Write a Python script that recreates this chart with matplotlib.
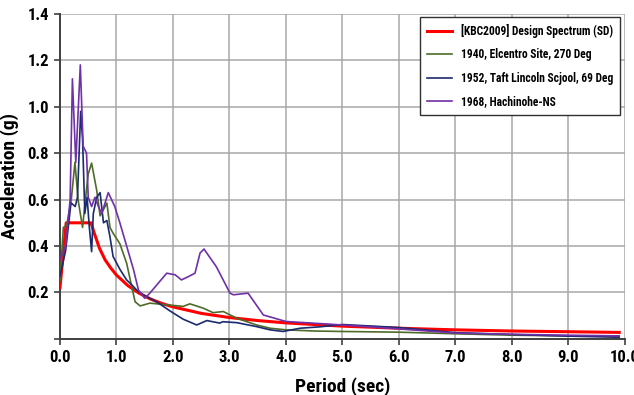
import matplotlib.pyplot as plt
from matplotlib import font_manager

# design spectrum (KBC2009, SD)
sd_T = [0.0, 0.11, 0.55, 0.6, 0.7, 0.8, 0.9, 1.0, 1.2, 1.4, 1.6, 1.8, 2.0, 2.5,
        3.0, 3.5, 4.0, 5.0, 6.0, 7.0, 8.0, 9.0, 9.9]
sd_Sa = [0.22, 0.50, 0.50, 0.46, 0.39, 0.34, 0.305, 0.275, 0.23, 0.197, 0.172,
         0.153, 0.138, 0.11, 0.092, 0.079, 0.069, 0.055, 0.046, 0.039, 0.034,
         0.031, 0.028]

# 1940 El Centro
ec_T = [0.0, 0.06, 0.12, 0.2, 0.265, 0.32, 0.40, 0.45, 0.50, 0.56, 0.65, 0.71,
        0.83, 0.885, 0.94, 1.06, 1.18, 1.27, 1.33, 1.42, 1.59, 1.89, 2.18, 2.3,
        2.54, 2.71, 2.89, 3.13, 3.48, 3.72, 4.0, 4.5, 5.0, 6.0, 7.0, 8.0, 9.0, 9.9]
ec_Sa = [0.25, 0.48, 0.49, 0.60, 0.76, 0.60, 0.48, 0.60, 0.71, 0.757, 0.64,
         0.53, 0.585, 0.48, 0.455, 0.41, 0.326, 0.225, 0.16, 0.142, 0.154, 0.147,
         0.140, 0.151, 0.132, 0.113, 0.118, 0.089, 0.060, 0.046, 0.039, 0.034,
         0.032, 0.029, 0.022, 0.016, 0.013, 0.012]

# 1952 Taft
tf_T = [0.0, 0.1, 0.195, 0.27, 0.31, 0.366, 0.40, 0.44, 0.48, 0.52, 0.56, 0.59,
        0.65, 0.71, 0.77, 0.83, 0.885, 0.94, 1.06, 1.18, 1.27, 1.36, 1.47, 1.71,
        1.95, 2.18, 2.42, 2.6, 2.83, 2.88, 3.13, 3.48, 3.72, 3.95, 4.25, 4.6,
        5.0, 6.0, 7.0, 8.0, 9.0, 9.9]
tf_Sa = [0.27, 0.38, 0.586, 0.57, 0.61, 0.98, 0.86, 0.54, 0.61, 0.48, 0.376,
         0.54, 0.61, 0.63, 0.50, 0.51, 0.44, 0.355, 0.30, 0.254, 0.233, 0.21,
         0.19, 0.16, 0.12, 0.085, 0.06, 0.079, 0.068, 0.074, 0.07, 0.053, 0.039,
         0.032, 0.046, 0.052, 0.062, 0.049, 0.027, 0.019, 0.012, 0.007]

# 1968 Hachinohe
hc_T = [0.0, 0.1, 0.18, 0.22, 0.28, 0.36, 0.41, 0.47, 0.50, 0.56, 0.62, 0.68,
        0.74, 0.855, 0.97, 1.06, 1.18, 1.30, 1.39, 1.5, 1.59, 1.74, 1.89, 2.04,
        2.15, 2.27, 2.39, 2.48, 2.55, 2.77, 3.01, 3.07, 3.33, 3.6, 4.0, 5.0,
        6.0, 7.0, 8.0, 9.0, 9.9]
hc_Sa = [0.34, 0.40, 0.60, 1.12, 0.76, 1.18, 0.83, 0.80, 0.61, 0.57, 0.61,
         0.57, 0.54, 0.63, 0.57, 0.50, 0.40, 0.30, 0.21, 0.175, 0.197, 0.24,
         0.283, 0.276, 0.254, 0.268, 0.283, 0.37, 0.387, 0.31, 0.197, 0.19,
         0.197, 0.103, 0.075, 0.06, 0.043, 0.025, 0.02, 0.016, 0.013]

labels = ["[KBC2009] Design Spectrum (SD)", "1940, Elcentro Site, 270 Deg",
          "1952, Taft Lincoln Scjool, 69 Deg", "1968, Hachinohe-NS"]

# pick a narrow font if one is installed
names = set(f.name for f in font_manager.fontManager.ttflist)
font = 'Liberation Sans'
for cand in ['Liberation Sans Narrow', 'DejaVu Sans Condensed', 'Roboto Condensed']:
    if cand in names:
        font = cand
        break
narrow = font != 'Liberation Sans'
tsize = 12 if narrow else 10
lsize = 14 if narrow else 12

fig = plt.figure(figsize=(6.34, 3.95), dpi=100)
ax = fig.add_axes([0.0946, 0.142, 0.891, 0.823])

ax.plot(sd_T, sd_Sa, color='#ff0000', lw=2.2, label=labels[0], zorder=3)
ax.plot(ec_T, ec_Sa, color='#4f6b2a', lw=1.2, label=labels[1], zorder=4)
ax.plot(tf_T, tf_Sa, color='#1c2a6e', lw=1.2, label=labels[2], zorder=5)
ax.plot(hc_T, hc_Sa, color='#7030a8', lw=1.2, label=labels[3], zorder=6)

ax.set_xlim(0, 10)
ax.set_ylim(0, 1.4)
ax.set_xticks([i for i in range(11)])
ax.set_xticklabels(['%.1f' % i for i in range(11)])
ax.set_yticks([0, 0.2, 0.4, 0.6, 0.8, 1.0, 1.2, 1.4])
ax.set_yticklabels(['', '0.2', '0.4', '0.6', '0.8', '1.0', '1.2', '1.4'])

ax.grid(True, color='#a8a8a8', lw=1.1)
ax.set_axisbelow(True)
for s in ['top', 'right']:
    ax.spines[s].set_visible(False)
for s in ['left', 'bottom']:
    ax.spines[s].set_color('#404040')
    ax.spines[s].set_linewidth(1.4)
ax.tick_params(direction='out', length=4, width=1.2, color='#404040', pad=4)
for lbl in ax.get_xticklabels() + ax.get_yticklabels():
    lbl.set_fontfamily(font)
    lbl.set_fontweight('bold')
    lbl.set_fontsize(tsize)

ax.set_xlabel('Period (sec)', fontfamily=font, fontweight='bold', fontsize=lsize, labelpad=9)
ax.set_ylabel('Acceleration (g)', fontfamily=font, fontweight='bold', fontsize=lsize, labelpad=6)

leg = ax.legend(loc='upper right', bbox_to_anchor=(0.992, 0.99), fancybox=False,
                framealpha=1, edgecolor='#303030', handlelength=2.2,
                prop={'family': font, 'weight': 'bold', 'size': 8.3 if narrow else 7},
                labelspacing=0.9, borderpad=0.6, borderaxespad=0)
leg.get_frame().set_linewidth(1.0)

fig.savefig('out.png', dpi=100)
